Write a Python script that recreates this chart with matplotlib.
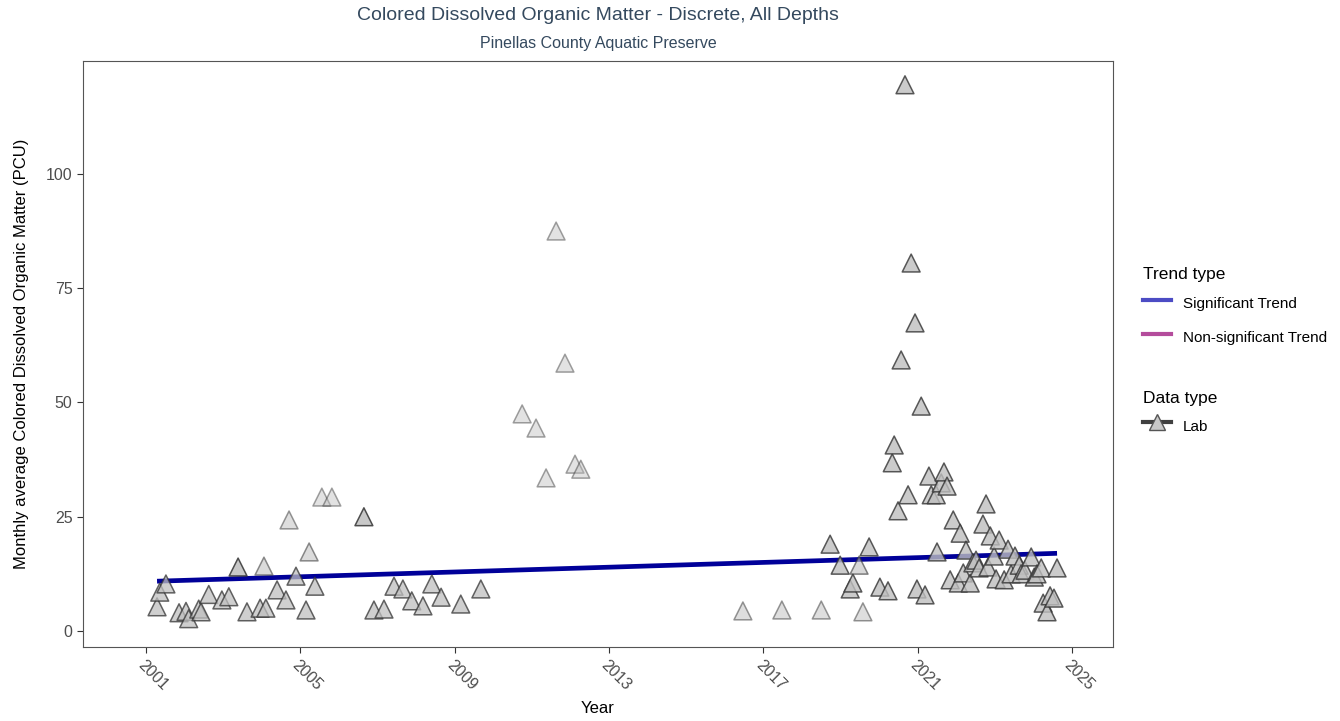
#!/usr/bin/env python3
# CDOM monthly averages, Pinellas County Aquatic Preserve
import numpy as np
import matplotlib.pyplot as plt
from matplotlib.lines import Line2D

plt.rcParams['font.family'] = ['Liberation Sans', 'DejaVu Sans']

# ---------------------------------------------------------------------------
# data
# ---------------------------------------------------------------------------
years = [
    2001.29, 2001.36, 2001.52, 2001.86, 2002.04, 2002.11, 2002.37, 2002.43,
    2002.63, 2002.97, 2003.15, 2003.39, 2003.62, 2003.96, 2004.06, 2004.11,
    2004.40, 2004.63, 2004.71, 2004.89, 2005.15, 2005.23, 2005.38, 2005.56,
    2005.82, 2006.65, 2006.91, 2007.17, 2007.43, 2007.66, 2007.89, 2008.18,
    2008.41, 2008.65, 2009.16, 2009.68,
    2010.75, 2011.11, 2011.37, 2011.63, 2011.86, 2012.12, 2012.27,
    2016.47, 2017.48, 2018.50, 2018.73, 2018.99, 2019.25, 2019.32, 2019.48,
    2019.58, 2019.74, 2020.02, 2020.23, 2020.34, 2020.39, 2020.49, 2020.57,
    2020.67, 2020.75, 2020.83, 2020.93, 2020.98, 2021.09, 2021.19, 2021.29,
    2021.35, 2021.48, 2021.50, 2021.61, 2021.68, 2021.76, 2021.84, 2021.92,
    2022.05, 2022.10, 2022.18, 2022.25, 2022.36, 2022.43, 2022.51, 2022.59,
    2022.69, 2022.77, 2022.82, 2022.88, 2022.98, 2023.03, 2023.11, 2023.24,
    2023.34, 2023.42, 2023.52, 2023.63, 2023.68, 2023.78, 2023.94, 2024.02,
    2024.09, 2024.20, 2024.25, 2024.35, 2024.43, 2024.53, 2024.61,
]
cdom = [
    5.3, 8.5, 10.3, 4.0, 4.3, 2.7, 4.8, 4.2,
    8.0, 6.8, 7.5, 14.0, 4.2, 5.0, 14.2, 5.0,
    9.0, 6.8, 24.3, 12.0, 4.6, 17.3, 9.8, 29.3,
    29.3, 25.0, 4.6, 4.8, 9.8, 9.2, 6.6, 5.5,
    10.3, 7.4, 5.9, 9.2,
    47.5, 44.4, 33.5, 87.5, 58.6, 36.5, 35.4,
    4.4, 4.6, 4.6, 19.0, 14.4, 9.2, 10.5, 14.4,
    4.2, 18.4, 9.6, 8.8, 36.8, 40.7, 26.3, 59.3,
    119.5, 29.8, 80.5, 67.4, 9.2, 49.2, 7.9, 33.9,
    29.8, 29.8, 17.3, 32.4, 34.8, 31.7, 11.2, 24.3,
    10.5, 21.4, 12.7, 17.7, 10.5, 14.9, 15.5, 13.8,
    23.4, 27.8, 14.0, 20.8, 16.4, 11.4, 19.9, 11.2,
    17.9, 12.5, 16.4, 14.4, 12.5, 13.3, 16.2, 11.8,
    12.5, 13.8, 6.1, 4.2, 7.7, 7.2, 13.8,
]
# point opacity (fewer samples -> lighter)
opacity = [
    0.75, 0.75, 0.75, 0.75, 0.75, 0.75, 0.75, 0.75,
    0.75, 0.75, 0.75, 0.85, 0.75, 0.75, 0.55, 0.75,
    0.75, 0.75, 0.5, 0.75, 0.75, 0.55, 0.75, 0.45,
    0.45, 0.85, 0.75, 0.75, 0.75, 0.75, 0.75, 0.75,
    0.75, 0.75, 0.75, 0.75,
    0.45, 0.45, 0.45, 0.45, 0.45, 0.45, 0.45,
    0.5, 0.5, 0.5, 0.8, 0.8, 0.8, 0.8, 0.6,
    0.5, 0.8, 0.8, 0.8, 0.8, 0.8, 0.8, 0.8,
    0.8, 0.8, 0.8, 0.8, 0.8, 0.8, 0.8, 0.8,
    0.8, 0.8, 0.8, 0.8, 0.8, 0.8, 0.8, 0.8,
    0.8, 0.8, 0.8, 0.8, 0.8, 0.8, 0.8, 0.8,
    0.8, 0.8, 0.8, 0.8, 0.8, 0.8, 0.8, 0.8,
    0.8, 0.8, 0.8, 0.8, 0.8, 0.8, 0.8, 0.8,
    0.8, 0.8, 0.8, 0.8, 0.8, 0.8, 0.8,
]

trend_years = [2001.29, 2024.61]
trend_vals = [10.9, 17.0]

x_ticks = [2001, 2005, 2009, 2013, 2017, 2021, 2025]
y_ticks = [0, 25, 50, 75, 100]

# ---------------------------------------------------------------------------
# plot
# ---------------------------------------------------------------------------
fig = plt.figure(figsize=(13.4, 7.21), dpi=100)
ax = fig.add_axes([0.0619, 0.1026, 0.7687, 0.8128])

face = np.array([0.75, 0.75, 0.75])
edge = np.array([0.2, 0.2, 0.2])
fc = [(*face, a) for a in opacity]
ec = [(*edge, a) for a in opacity]

ax.plot(trend_years, trend_vals, color='#000099', lw=3.4, zorder=2,
        solid_capstyle='butt')
ax.scatter(years, cdom, marker='^', s=165, facecolors=fc, edgecolors=ec,
           linewidths=1.1, zorder=3)

ax.set_xlim(1999.37, 2026.06)
ax.set_ylim(-3.5, 124.7)
ax.set_xticks(x_ticks)
ax.set_yticks(y_ticks)
ax.set_xticklabels([str(t) for t in x_ticks], rotation=-45, ha='left',
                   rotation_mode='anchor', fontsize=11.5, color='#4d4d4d')
ax.set_yticklabels([str(t) for t in y_ticks], fontsize=11.5, color='#4d4d4d')
ax.tick_params(length=4, width=0.8, color='#333333')
for s in ax.spines.values():
    s.set_color('#555555')
    s.set_linewidth(0.8)

ax.set_xlabel('Year', fontsize=12, labelpad=6)
ax.set_ylabel('Monthly average Colored Dissolved Organic Matter (PCU)',
              fontsize=12, labelpad=12)

fig.text(0.4463, 0.978, 'Colored Dissolved Organic Matter - Discrete, All Depths',
         ha='center', va='center', fontsize=14, color='#34495e')
fig.text(0.4463, 0.94, 'Pinellas County Aquatic Preserve',
         ha='center', va='center', fontsize=11.5, color='#34495e')

# legends
trend_handles = [Line2D([], [], color='#4c4cc4', lw=3),
                 Line2D([], [], color='#b44c9c', lw=3)]
leg1 = fig.legend(trend_handles, ['Significant Trend', 'Non-significant Trend'],
                  title='Trend type', loc='upper left',
                  bbox_to_anchor=(0.853, 0.629), frameon=False,
                  borderpad=0, borderaxespad=0,
                  fontsize=11, title_fontsize=12.5, handlelength=1.8,
                  handleheight=2.2, labelspacing=0.55, alignment='left')
data_handle = Line2D([], [], color='#404040', lw=3, marker='^',
                     markersize=11, markerfacecolor='#c8c8c8',
                     markeredgecolor='#555555')
leg2 = fig.legend([data_handle], ['Lab'], title='Data type', loc='upper left',
                  bbox_to_anchor=(0.853, 0.458), frameon=False,
                  borderpad=0, borderaxespad=0,
                  fontsize=11, title_fontsize=12.5, handlelength=1.8,
                  handleheight=2.2, alignment='left')

fig.savefig('out.png', dpi=100)
